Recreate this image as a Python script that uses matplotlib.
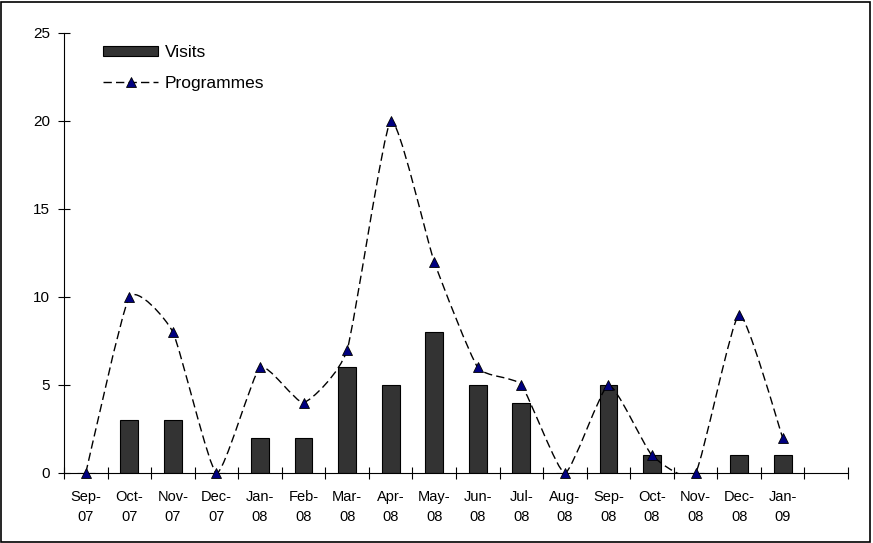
import numpy as np
import matplotlib
matplotlib.use('Agg')
import matplotlib.pyplot as plt
from matplotlib.path import Path
from matplotlib.patches import PathPatch, Rectangle
from matplotlib.lines import Line2D

plt.rcParams['font.family'] = ['Liberation Sans', 'DejaVu Sans']

months = ['Sep-\n07', 'Oct-\n07', 'Nov-\n07', 'Dec-\n07', 'Jan-\n08', 'Feb-\n08',
          'Mar-\n08', 'Apr-\n08', 'May-\n08', 'Jun-\n08', 'Jul-\n08', 'Aug-\n08',
          'Sep-\n08', 'Oct-\n08', 'Nov-\n08', 'Dec-\n08', 'Jan-\n09']
visits = [0, 3, 3, 0, 2, 2, 6, 5, 8, 5, 4, 0, 5, 1, 0, 1, 1]
programmes = [0, 10, 8, 0, 6, 4, 7, 20, 12, 6, 5, 0, 5, 1, 0, 9, 2]

fig = plt.figure(figsize=(8.73, 5.43), dpi=100)
ax = fig.add_axes([64 / 873, 70 / 543, 784 / 873, 440 / 543])

x = np.arange(len(months))
ax.bar(x, visits, width=0.41, color='#333333', edgecolor='black', linewidth=0.8,
       zorder=2)

# gently smoothed dashed line (Excel style), bezier segments through the points
dash = (0, (6, 3))
pts = np.column_stack([x, programmes]).astype(float)
verts = [pts[0]]
codes = [Path.MOVETO]
k = 1 / 12
for i in range(len(pts) - 1):
    p0 = pts[i - 1] if i > 0 else pts[i]
    p1, p2 = pts[i], pts[i + 1]
    p3 = pts[i + 2] if i + 2 < len(pts) else pts[i + 1]
    c1 = p1 + (p2 - p0) * k
    c2 = p2 - (p3 - p1) * k
    verts += [c1, c2, p2]
    codes += [Path.CURVE4] * 3
ax.add_patch(PathPatch(Path(verts, codes), facecolor='none', edgecolor='black',
                       linewidth=1.0, linestyle=dash, zorder=3))
ax.plot(x, programmes, linestyle='none', marker='^', markersize=6.5,
        markerfacecolor='#000080', markeredgecolor='black', markeredgewidth=0.6,
        zorder=4, clip_on=False)

ax.set_xlim(-0.5, len(months) + 0.5)
ax.set_ylim(0, 25)
ax.set_yticks(range(0, 26, 5))
ax.set_xticks(x)
ax.set_xticklabels(months, linespacing=1.55)
ax.set_xticks(np.arange(-0.5, len(months) + 1), minor=True)
ax.tick_params(axis='x', which='major', length=0, pad=12, labelsize=10.5)
ax.tick_params(axis='x', which='minor', direction='inout', length=8, width=0.8)
ax.tick_params(axis='y', direction='inout', length=8, width=0.8, pad=6, labelsize=11)
for s in ['top', 'right']:
    ax.spines[s].set_visible(False)
for s in ['left', 'bottom']:
    ax.spines[s].set_linewidth(0.8)

handles = [Rectangle((0, 0), 1, 1, facecolor='#333333', edgecolor='black', linewidth=0.8),
           Line2D([], [], color='black', linestyle=dash, linewidth=1.0,
                  marker='^', markersize=6.5, markerfacecolor='#000080',
                  markeredgecolor='black', markeredgewidth=0.6)]
ax.legend(handles, ['Visits', 'Programmes'], loc='upper left',
          bbox_to_anchor=(0.0297, 1.0085), frameon=False, fontsize=12.5,
          handlelength=3.2, handleheight=0.52, handletextpad=0.35, labelspacing=0.9)

fig.patches.append(Rectangle((1 / 873, 1 / 543), 869 / 873, 540 / 543,
                             transform=fig.transFigure, fill=False,
                             edgecolor='black', linewidth=1.2))

fig.savefig('out.png', dpi=100)
